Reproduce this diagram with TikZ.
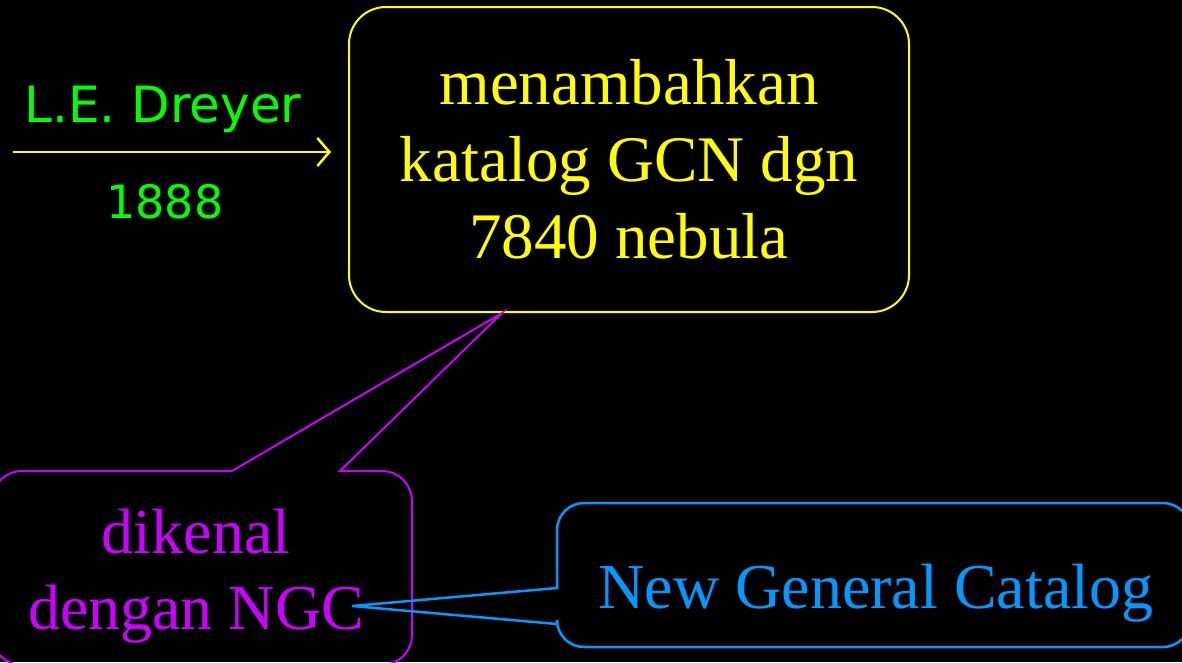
\documentclass[tikz,border=0pt]{standalone}
\usepackage{fontspec}
\setmainfont{Liberation Serif}
\newfontfamily\handfont{DejaVu Sans}
\usetikzlibrary{arrows.meta, positioning}
\definecolor{boxyellow}{RGB}{255,255,0}
\definecolor{namegreen}{RGB}{0,255,0}
\definecolor{calloutpurple}{RGB}{204,0,255}
\definecolor{calloutblue}{RGB}{0,153,255}
\tikzset{
  mainbox/.style={rectangle, rounded corners=37pt, draw=boxyellow, line width=2pt,
                  text=boxyellow, align=center, minimum width=560pt, minimum height=305pt,
                  font=\fontsize{65pt}{77pt}\selectfont},
  arrow/.style={-{Straight Barb[length=12pt, width=28pt]}, line width=2.5pt, color=boxyellow},
  namelabel/.style={text=namegreen, inner sep=0pt, font=\handfont\fontsize{50pt}{60pt}\selectfont},
  callouttext/.style={align=center, inner sep=0pt, font=\fontsize{64pt}{76pt}\selectfont},
  purplecallout/.style={draw=calloutpurple, line width=2pt},
  bluecallout/.style={draw=calloutblue, line width=2.5pt},
}
\begin{document}
\begin{tikzpicture}[x=1pt, y=-1pt]
  \useasboundingbox (0,0) rectangle (1182,662);
  \fill[black] (0,0) rectangle (1182,662);
  \clip (0,0) rectangle (1182,662);
  \node[mainbox] (catalog) at (629,159.5) {menambahkan\\katalog GCN dgn\\7840 nebula};
  \coordinate (src) at (13,152);
  \draw[arrow] (src) -- ([xshift=-17pt]src -| catalog.west);
  \node[namelabel, anchor=base] (dreyer) at (163,122) {L.E. Dreyer};
  \node[namelabel, anchor=base, font=\handfont\fontsize{46pt}{55pt}\selectfont] (year) at (165,218) {1888};
  \node[callouttext, text=calloutpurple] (ngc) at (196,576) {dikenal\\dengan NGC};
  \coordinate (ptA) at ([xshift=-127pt]catalog.south);
  \draw[purplecallout] (412,560) [rounded corners=30pt] -- (412,665) -- (-8,665) -- (-8,471)
    [sharp corners] -- (232,471) -- (ptA) -- (340,471) [rounded corners=30pt] -- (412,471) -- cycle;
  \node[callouttext, text=calloutblue] (newgc) at (876,593) {New General Catalog};
  \coordinate (ptB) at (352,606);
  \draw[bluecallout] (557,560) [rounded corners=27pt] -- (557,503) -- (1190,503) -- (1190,647)
    -- (557,647) [sharp corners] -- (557,624) -- (ptB) -- (557,588) -- cycle;
\end{tikzpicture}
\end{document}
